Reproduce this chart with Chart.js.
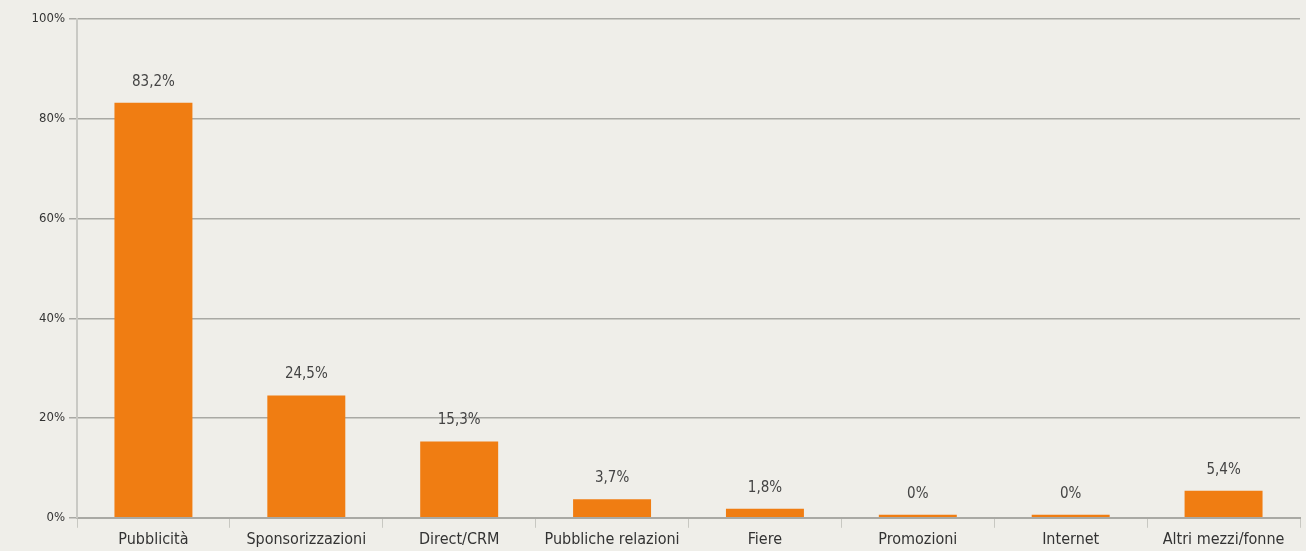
<!DOCTYPE html>
<html>
<head>
<meta charset="utf-8">
<script src="https://cdn.jsdelivr.net/npm/chart.js@4"></script>
<style>
  html, body { margin: 0; padding: 0; background: #efeee9; }
  #wrap { width: 1306px; height: 551px; position: relative; }
</style>
</head>
<body>
<div id="wrap"><canvas id="c" width="1306" height="551"></canvas></div>
<script>
const categories = ['Pubblicità', 'Sponsorizzazioni', 'Direct/CRM', 'Pubbliche relazioni', 'Fiere', 'Promozioni', 'Internet', 'Altri mezzi/fonne'];
const shares = [83.2, 24.5, 15.3, 3.7, 1.8, 0, 0, 5.4];
const shareLabels = ['83,2%', '24,5%', '15,3%', '3,7%', '1,8%', '0%', '0%', '5,4%'];
const yTicks = [0, 20, 40, 60, 80, 100];

const FONT = "'Liberation Sans Narrow', 'DejaVu Sans Condensed', sans-serif";

// Writes each bar's percentage just above its top
const valueLabels = {
  id: 'valueLabels',
  afterDatasetsDraw(chart) {
    const ctx = chart.ctx;
    const meta = chart.getDatasetMeta(0);
    ctx.save();
    ctx.font = '15px ' + FONT;
    ctx.fillStyle = '#444';
    ctx.textAlign = 'center';
    ctx.textBaseline = 'middle';
    meta.data.forEach((bar, i) => {
      ctx.fillText(shareLabels[i], bar.x, bar.y - 21);
    });
    ctx.restore();
  }
};

new Chart(document.getElementById('c'), {
  type: 'bar',
  data: {
    labels: categories,
    datasets: [{
      data: shares,
      backgroundColor: '#f07d12',
      borderWidth: 0,
      barPercentage: 0.51,
      categoryPercentage: 1,
      minBarLength: 3
    }]
  },
  options: {
    responsive: false,
    animation: false,
    layout: { padding: { left: 0, right: 6, top: 19, bottom: 0 } },
    plugins: { legend: { display: false }, tooltip: { enabled: false } },
    scales: {
      x: {
        grid: { display: true, drawOnChartArea: false, offset: true, tickLength: 10, color: '#c8c8c2' },
        border: { display: true, color: '#a9a9a4', width: 2 },
        ticks: { color: '#333', font: { family: FONT, size: 16 }, padding: 2, maxRotation: 0, autoSkip: false }
      },
      y: {
        min: 0, max: 100,
        afterBuildTicks(axis) { axis.ticks = yTicks.map(v => ({ value: v })); },
        afterFit(axis) { axis.width = 77; },
        grid: { color: '#a9a9a4', lineWidth: 1.5, tickLength: 8, drawTicks: true },
        border: { display: true, color: '#c9c9c4', width: 2 },
        ticks: { color: '#333', font: { family: FONT, size: 13 }, padding: 4, callback: v => v + '%' }
      }
    }
  },
  plugins: [valueLabels]
});
</script>
</body>
</html>
